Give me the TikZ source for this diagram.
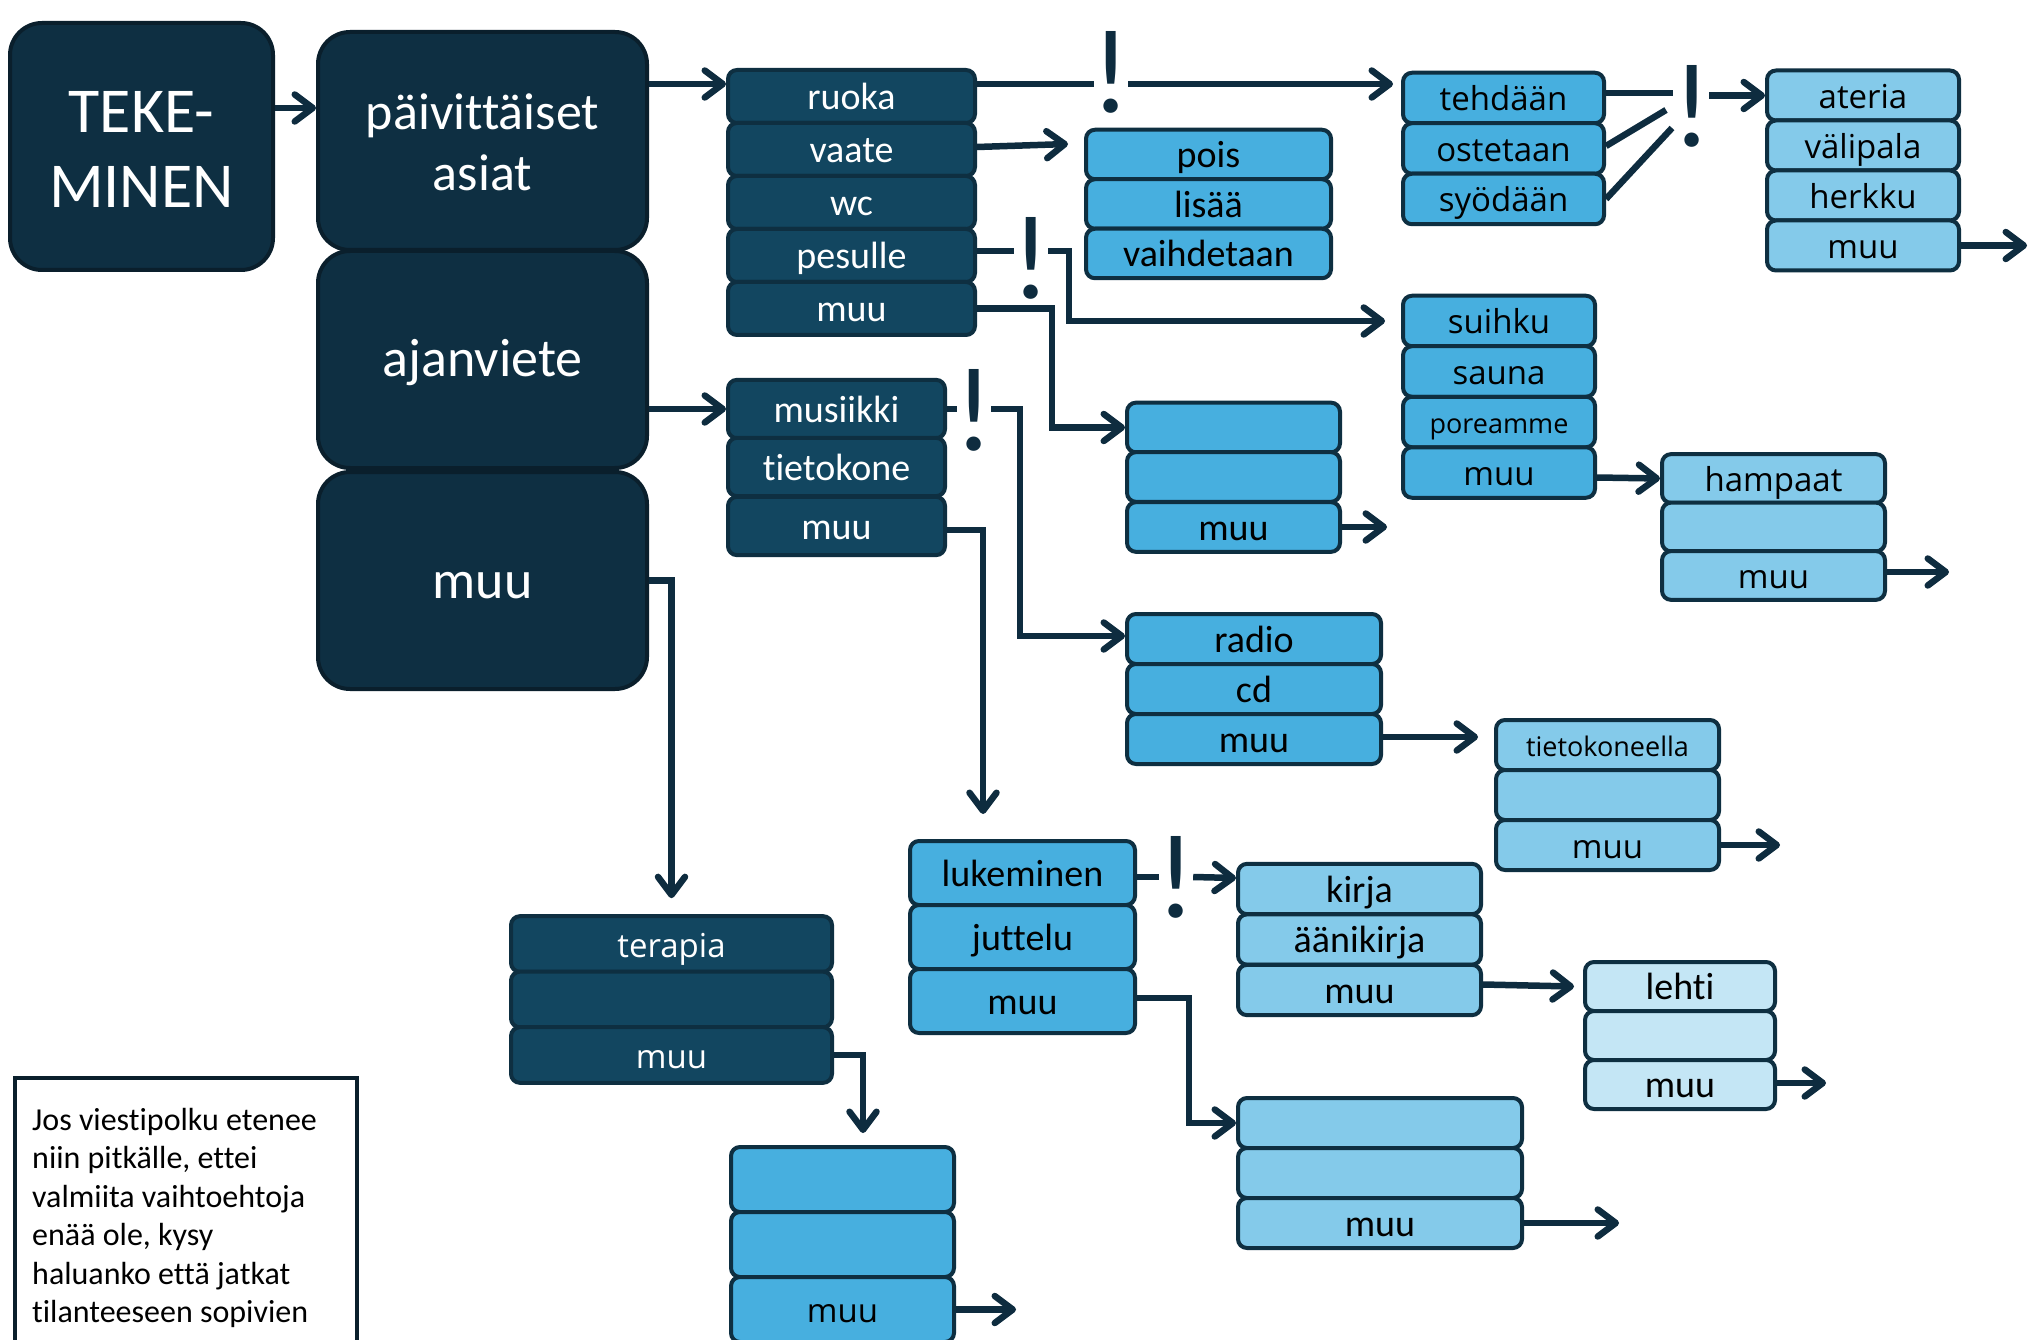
\documentclass[tikz,border=0pt]{standalone}
\usepackage{fontspec}
\newfontfamily\carl[Ligatures=NoCommon]{Carlito}
\newfontfamily\osans{Open Sans}
\usetikzlibrary{arrows.meta}
\definecolor{bigfill}{HTML}{0E2F42}
\definecolor{bigline}{HTML}{0A1F2C}
\definecolor{dkfill}{HTML}{124660}
\definecolor{rowline}{HTML}{0E2F41}
\definecolor{mdfill}{HTML}{47AFDF}
\definecolor{ltfill}{HTML}{84CAEA}
\definecolor{vlfill}{HTML}{C4E6F5}
\definecolor{lncol}{HTML}{0E2C3F}
\tikzset{
  bigbox/.style={draw=bigline, fill=bigfill, line width=4pt, rounded corners=32pt, text=white, align=center, inner sep=0pt},
  rowbox/.style={draw=rowline, line width=4pt, rounded corners=9pt, inner sep=0pt},
  dk/.style={rowbox, fill=dkfill, text=white},
  md/.style={rowbox, fill=mdfill, text=black},
  lt/.style={rowbox, fill=ltfill, text=black},
  vl/.style={rowbox, fill=vlfill, text=black},
  cond/.style={font=\carl\fontsize{38}{42}\selectfont, text height=31pt, text depth=4.5pt},
  reg/.style={font=\osans\fontsize{33}{38}\selectfont, text height=30pt, text depth=4pt},
  smallf/.style={font=\osans\fontsize{27}{30}\selectfont, text height=26pt, text depth=4pt},
  conn/.style={draw=lncol, line width=6.5pt},
  arr/.style={conn, -{Straight Barb[length=18pt,width=27pt,round]}},
  excl/.style={text=lncol, font=\carl\fontsize{120}{120}\selectfont, inner sep=0pt, anchor=base, minimum width=34pt},
  notebox/.style={draw=bigline, line width=4pt, fill=white, inner sep=0pt, anchor=north west},
}
\begin{document}
\begin{tikzpicture}[x=1pt,y=-1pt]
\useasboundingbox (0,0) rectangle (2038,1340);
\clip (0,0) rectangle (2038,1340);
\fill[white] (0,0) rectangle (2038,1340);

% big boxes
\node[bigbox, minimum width=263pt, minimum height=247pt, font=\carl\fontsize{64}{75}\selectfont] (teke) at (141.5,146.5) {\rule{0pt}{48pt}TEKE-\\MINEN};
\node[bigbox, minimum width=329pt, minimum height=218pt, font=\carl\fontsize{52}{61}\selectfont] (pv) at (482.5,141) {\rule{0pt}{39pt}päivittäiset\\asiat};
\node[bigbox, minimum width=329pt, minimum height=217pt, font=\carl\fontsize{54}{60}\selectfont, text height=46pt, text depth=11pt] (ajan) at (482.5,359.5) {ajanviete};
\node[bigbox, minimum width=329pt, minimum height=217pt, font=\carl\fontsize{54}{60}\selectfont, text height=46pt, text depth=11pt] (bmuu) at (482.5,580.5) {muu};

% column 1
\begin{scope}[every node/.style={dk,cond,minimum width=247pt,minimum height=53pt}]
\node (ruoka) at (851.5,96.5) {ruoka};
\node (vaate) at (851.5,149.5) {vaate};
\node (wc) at (851.5,202.5) {wc};
\node (pesulle) at (851.5,255.5) {pesulle};
\node (muu1) at (851.5,308.5) {muu};
\end{scope}

% pois
\begin{scope}[every node/.style={md,cond,minimum width=245pt,minimum height=49.5pt}]
\node (pois) at (1208.5,154.5) {pois};
\node (lisaa) at (1208.5,204) {lisää};
\node (vaih) at (1208.5,253.5) {vaihdetaan};
\end{scope}

% tehdaan
\begin{scope}[every node/.style={md,reg,minimum width=201pt,minimum height=50.5pt}]
\node (teh) at (1503.5,98) {tehdään};
\node (ost) at (1503.5,148.5) {ostetaan};
\node (syo) at (1503.5,199) {syödään};
\end{scope}

% ateria
\begin{scope}[every node/.style={lt,reg,minimum width=192pt,minimum height=50pt}]
\node (at1) at (1863,95.5) {ateria};
\node (at2) at (1863,145.5) {välipala};
\node (at3) at (1863,195.5) {herkku};
\node (at4) at (1863,245.5) {muu};
\end{scope}

% suihku
\begin{scope}[every node/.style={md,reg,minimum width=192pt,minimum height=50.5pt}]
\node (su1) at (1499,321) {suihku};
\node (su2) at (1499,371.5) {sauna};
\node[smallf] (su3) at (1499,422) {poreamme};
\node (su4) at (1499,472.5) {muu};
\end{scope}

% hampaat
\begin{scope}[every node/.style={lt,reg,minimum width=223pt,minimum height=48.7pt}]
\node (ha1) at (1773.5,478.5) {hampaat};
\node (ha2) at (1773.5,527) {};
\node (ha3) at (1773.5,575.5) {muu};
\end{scope}

% empty box A
\begin{scope}[every node/.style={md,cond,minimum width=213pt,minimum height=49.7pt}]
\node (A1) at (1233.5,427.5) {};
\node (A2) at (1233.5,477) {};
\node (A3) at (1233.5,527) {muu};
\end{scope}

% musiikki
\begin{scope}[every node/.style={dk,cond,minimum width=217pt,minimum height=58.3pt}]
\node (mus1) at (836.5,409) {musiikki};
\node (mus2) at (836.5,467) {tietokone};
\node (mus3) at (836.5,526) {muu};
\end{scope}

% radio
\begin{scope}[every node/.style={md,cond,minimum width=254pt,minimum height=50pt}]
\node (ra1) at (1254,639) {radio};
\node (ra2) at (1254,689) {cd};
\node (ra3) at (1254,739) {muu};
\end{scope}

% tietokoneella
\begin{scope}[every node/.style={lt,reg,minimum width=223pt,minimum height=50pt}]
\node[smallf] (tk1) at (1607.5,745) {tietokoneella};
\node (tk2) at (1607.5,795) {};
\node (tk3) at (1607.5,845) {muu};
\end{scope}

% lukeminen
\begin{scope}[every node/.style={md,cond,minimum width=225pt,minimum height=64pt}]
\node (luk1) at (1022.5,873) {lukeminen};
\node (luk2) at (1022.5,937) {juttelu};
\node (luk3) at (1022.5,1001) {muu};
\end{scope}

% kirja
\begin{scope}[every node/.style={lt,cond,minimum width=243pt,minimum height=50.3pt}]
\node (ki1) at (1359.5,889) {kirja};
\node (ki2) at (1359.5,939.5) {äänikirja};
\node (ki3) at (1359.5,990) {muu};
\end{scope}

% lehti
\begin{scope}[every node/.style={vl,cond,minimum width=190pt,minimum height=49pt}]
\node (le1) at (1680,986.5) {lehti};
\node (le2) at (1680,1035.5) {};
\node (le3) at (1680,1084.5) {muu};
\end{scope}

% empty box B
\begin{scope}[every node/.style={lt,cond,minimum width=284pt,minimum height=50pt}]
\node (B1) at (1380,1123) {};
\node (B2) at (1380,1173) {};
\node (B3) at (1380,1223) {muu};
\end{scope}

% terapia
\begin{scope}[every node/.style={dk,reg,minimum width=321pt,minimum height=55.7pt}]
\node (ter1) at (671.5,944) {terapia};
\node (ter2) at (671.5,999.5) {};
\node (ter3) at (671.5,1055) {muu};
\end{scope}

% bottom box
\begin{scope}[every node/.style={md,reg,minimum width=223pt,minimum height=65pt}]
\node (bt1) at (842.5,1179.5) {};
\node (bt2) at (842.5,1244.5) {};
\node (bt3) at (842.5,1309.5) {muu};
\end{scope}

% exclamation marks
\node[excl] (ex1) at (1111,113) {\makebox[0pt]{!}};
\node[excl] (ex2) at (1031,299) {\makebox[0pt]{!}};
\node[excl] (ex3) at (1692,147) {\makebox[0pt]{!}};
\node[excl] (ex4) at (974,450) {\makebox[0pt]{!}};
\node[excl] (ex5) at (1176,917) {\makebox[0pt]{!}};

% note
\node[notebox, minimum width=342pt, minimum height=290pt] (note) at (13,1076) {};
\node[anchor=north west, inner sep=0pt, align=left, text=black, font=\carl\fontsize{32}{38.5}\selectfont] (notetext) at ([xshift=19pt,yshift=-32pt]note.north west) {Jos viestipolku etenee\\niin pitkälle, ettei\\valmiita vaihtoehtoja\\enää ole, kysy\\haluanko että jatkat\\tilanteeseen sopivien};

% connectors
\draw[arr] ([yshift=38.5pt]teke.east) -- ([yshift=33pt]pv.west);
\draw[arr] ([yshift=57pt]pv.east) -- ([yshift=12.5pt]ruoka.west);
\draw[arr] ([yshift=-49.5pt]ajan.east) -- (mus1.west);
\draw[arr] (bmuu.east) -| ([yshift=16pt]ter1.north);

\coordinate (p1) at ([yshift=12.5pt]ruoka.east);
\draw[conn] (p1) -- (p1 -| ex1.west);
\draw[arr] (p1 -| ex1.east) -- ([xshift=-8pt,yshift=14pt]teh.west);
\draw[arr] ([yshift=2.5pt]vaate.east) -- ([xshift=-16pt,yshift=10.5pt]pois.west);
\coordinate (p2) at ([yshift=4.5pt]pesulle.east);
\draw[conn] (p2) -- (p2 -| ex2.west);
\draw[arr] (p2 -| ex2.east) -- ++(21,0) |- ([xshift=-16pt]su1.west);
\draw[arr] (muu1.east) -- ++(75,0) |- (A1.west);

\draw[conn] ([yshift=5pt]teh.east) -- ++(67,0);
\draw[conn] ([yshift=2.5pt]ost.east) -- ++(60,-36);
\draw[conn] (syo.east) -- ++(66,-71);
\draw[arr] (at1.west -| ex3.east) -- (at1.west);
\draw[arr] (at4.east) -- ++(66,0);
\draw[arr] ([yshift=-5pt]su4.east) -- (ha1.west);
\draw[arr] ([yshift=3.5pt]ha3.east) -- ++(62,0);
\draw[arr] (A3.east) -- ++(45,0);

\draw[conn] (mus1.east) -- (mus1.east -| ex4.west);
\draw[arr] (mus1.east -| ex4.east) -- ++(29,0) |- ([yshift=3pt]ra1.west);
\draw[arr] ([yshift=-4pt]mus3.east) -| ([xshift=-39.5pt,yshift=25pt]luk1.north);
\draw[arr] ([yshift=2pt]ra3.east) -- ++(95,0);
\draw[arr] (tk3.east) -- ++(59,0);

\coordinate (p5) at ([yshift=-4pt]luk1.east);
\draw[conn] (p5) -- (p5 -| ex5.west);
\draw[arr] (p5 -| ex5.east) -- ([yshift=11pt]ki1.west);
\draw[arr] ([yshift=3pt]luk3.east) -- ++(52,0) |- (B1.west);
\draw[arr] ([yshift=5.5pt]ki3.east) -- ([xshift=-9pt]le1.west);
\draw[arr] ([yshift=1.5pt]le3.east) -- ++(49,0);
\draw[arr] (B3.east) -- ++(95,0);
\draw[arr] (ter3.east) -| ([xshift=20.5pt,yshift=12pt]bt1.north);
\draw[arr] (bt3.east) -- ++(60,0);
\end{tikzpicture}
\end{document}
